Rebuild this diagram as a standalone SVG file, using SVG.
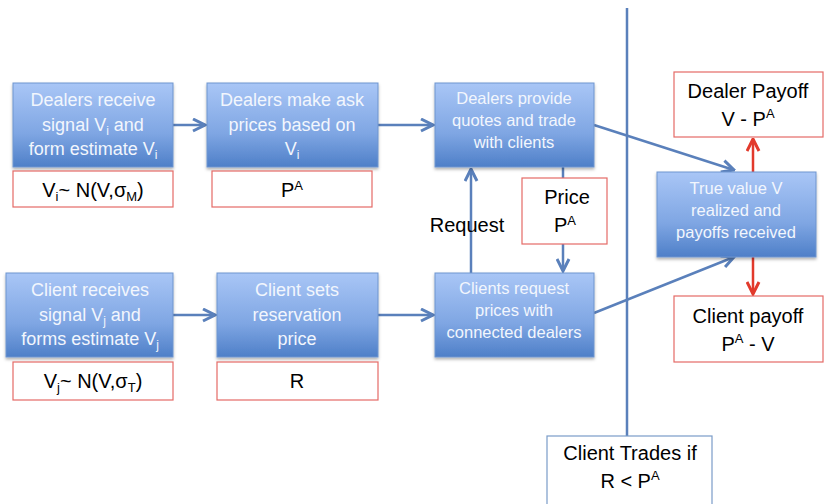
<svg xmlns="http://www.w3.org/2000/svg" width="827" height="504" viewBox="0 0 827 504">
<style>
.node rect{fill:url(#g);stroke:#6f95cf;stroke-width:1;filter:url(#sh)}
.nt{font-family:"Liberation Sans",Arial,sans-serif;fill:#f2f6fd;text-anchor:middle;font-size:18px}
.nt.s{font-size:16.5px}
.lb{font-family:"Liberation Sans",Arial,sans-serif;fill:#000;text-anchor:middle;font-size:20px}
.rb{fill:#fff;stroke:#e46a66;stroke-width:1.2}
.con{stroke:#5a80bb;stroke-width:2.5;fill:none}
.red{stroke:#e23a2c;stroke-width:2.5;fill:none}
</style>
<defs>
<linearGradient id="g" x1="0" y1="0" x2="0" y2="1">
<stop offset="0" stop-color="#a9c6f6"/>
<stop offset="0.6" stop-color="#7fa6e3"/>
<stop offset="1" stop-color="#4e7fc8"/>
</linearGradient>
<filter id="sh" x="-10%" y="-10%" width="120%" height="130%">
<feDropShadow dx="0" dy="2" stdDeviation="1.5" flood-color="#000" flood-opacity="0.3"/>
</filter>
<marker id="ab" viewBox="0 0 10 10" refX="9" refY="5" markerWidth="6" markerHeight="6" orient="auto" markerUnits="strokeWidth">
<path d="M1,1 L9,5 L1,9" fill="none" stroke="#5a80bb" stroke-width="2"/>
</marker>
<marker id="ar" viewBox="0 0 10 10" refX="9" refY="5" markerWidth="6" markerHeight="6" orient="auto" markerUnits="strokeWidth">
<path d="M1,1 L9,5 L1,9" fill="none" stroke="#e23a2c" stroke-width="2"/>
</marker>
</defs>
<rect width="827" height="504" fill="#fff"/>

<g id="connectors">
<line class="con" x1="627" y1="8" x2="627" y2="436"/>
<line class="con" x1="173" y1="125" x2="205" y2="125" marker-end="url(#ab)"/>
<line class="con" x1="378" y1="125" x2="433" y2="125" marker-end="url(#ab)"/>
<line class="con" x1="173" y1="315" x2="215" y2="315" marker-end="url(#ab)"/>
<line class="con" x1="378" y1="315" x2="433" y2="315" marker-end="url(#ab)"/>
<line class="con" x1="471" y1="273" x2="471" y2="169" marker-end="url(#ab)"/>
<line class="con" x1="563" y1="167" x2="563" y2="271" marker-end="url(#ab)"/>
<line class="con" x1="594" y1="125" x2="734" y2="170" marker-end="url(#ab)"/>
<line class="con" x1="594" y1="313" x2="734" y2="257" marker-end="url(#ab)"/>
<line class="red" x1="753" y1="172" x2="753" y2="139" marker-end="url(#ar)"/>
<line class="red" x1="753" y1="257" x2="753" y2="294" marker-end="url(#ar)"/>
</g>

<g id="n1" class="node">
<rect x="13" y="83" width="160" height="84"/>
<text class="nt" x="93" y="106">Dealers receive</text>
<text class="nt" x="93" y="131">signal V<tspan font-size="12" dy="4">i</tspan><tspan dy="-4"> and</tspan></text>
<text class="nt" x="93" y="155">form estimate V<tspan font-size="12" dy="4">i</tspan></text>
</g>
<g id="n2" class="node">
<rect x="207" y="83" width="171" height="84"/>
<text class="nt" x="292" y="106">Dealers make ask</text>
<text class="nt" x="292" y="131">prices based on</text>
<text class="nt" x="292" y="155">V<tspan font-size="12" dy="4">i</tspan></text>
</g>
<g id="n3" class="node">
<rect x="435" y="83" width="159" height="84"/>
<text class="nt s" x="514" y="104">Dealers provide</text>
<text class="nt s" x="514" y="126">quotes and trade</text>
<text class="nt s" x="514" y="148">with clients</text>
</g>
<g id="n4" class="node">
<rect x="6" y="273" width="167" height="84"/>
<text class="nt" x="90" y="296">Client receives</text>
<text class="nt" x="90" y="321">signal V<tspan font-size="12" dy="4">j</tspan><tspan dy="-4"> and</tspan></text>
<text class="nt" x="90" y="345">forms estimate V<tspan font-size="12" dy="4">j</tspan></text>
</g>
<g id="n5" class="node">
<rect x="217" y="273" width="161" height="84"/>
<text class="nt" x="297" y="296">Client sets</text>
<text class="nt" x="297" y="321">reservation</text>
<text class="nt" x="297" y="345">price</text>
</g>
<g id="n6" class="node">
<rect x="435" y="273" width="159" height="84"/>
<text class="nt s" x="514" y="294">Clients request</text>
<text class="nt s" x="514" y="316">prices with</text>
<text class="nt s" x="514" y="338">connected dealers</text>
</g>
<g id="n7" class="node">
<rect x="657" y="172" width="159" height="85"/>
<text class="nt s" x="736" y="194">True value V</text>
<text class="nt s" x="736" y="216">realized and</text>
<text class="nt s" x="736" y="238">payoffs received</text>
</g>

<g id="b1">
<rect class="rb" x="13" y="171" width="160" height="36"/>
<text class="lb" x="93" y="197">V<tspan font-size="13" dy="4">i</tspan><tspan dy="-4">~ N(V,σ</tspan><tspan font-size="13" dy="4">M</tspan><tspan dy="-4">)</tspan></text>
</g>
<g id="b2">
<rect class="rb" x="212" y="171" width="160" height="36"/>
<text class="lb" x="292" y="197">P<tspan font-size="13" dy="-7">A</tspan></text>
</g>
<g id="b3">
<rect class="rb" x="13" y="362" width="160" height="38"/>
<text class="lb" x="93" y="388">V<tspan font-size="13" dy="4">j</tspan><tspan dy="-4">~ N(V,σ</tspan><tspan font-size="13" dy="4">T</tspan><tspan dy="-4">)</tspan></text>
</g>
<g id="b4">
<rect class="rb" x="217" y="362" width="161" height="38"/>
<text class="lb" x="297" y="388">R</text>
</g>
<g id="price">
<rect class="rb" x="522" y="178" width="85" height="66"/>
<text class="lb" x="567" y="204">Price</text>
<text class="lb" x="565" y="232">P<tspan font-size="13" dy="-7">A</tspan></text>
</g>
<g id="request">
<text class="lb" x="467" y="232">Request</text>
</g>
<g id="dealerpayoff">
<rect class="rb" x="674" y="72" width="149" height="65"/>
<text class="lb" x="748" y="98" font-size="21.5">Dealer Payoff</text>
<text class="lb" x="748" y="126" font-size="21.5">V - P<tspan font-size="13" dy="-8">A</tspan></text>
</g>
<g id="clientpayoff">
<rect class="rb" x="674" y="296" width="149" height="66"/>
<text class="lb" x="748" y="323" font-size="21.5">Client payoff</text>
<text class="lb" x="748" y="351" font-size="21.5">P<tspan font-size="13" dy="-8">A</tspan><tspan dy="8"> - V</tspan></text>
</g>
<g id="trades">
<rect x="547" y="436" width="165" height="70" fill="#fff" stroke="#7a9cc8" stroke-width="1.2"/>
<text class="lb" x="630" y="460" font-size="22">Client Trades if</text>
<text class="lb" x="630" y="488" font-size="22">R &lt; P<tspan font-size="13" dy="-8">A</tspan></text>
</g>
</svg>
